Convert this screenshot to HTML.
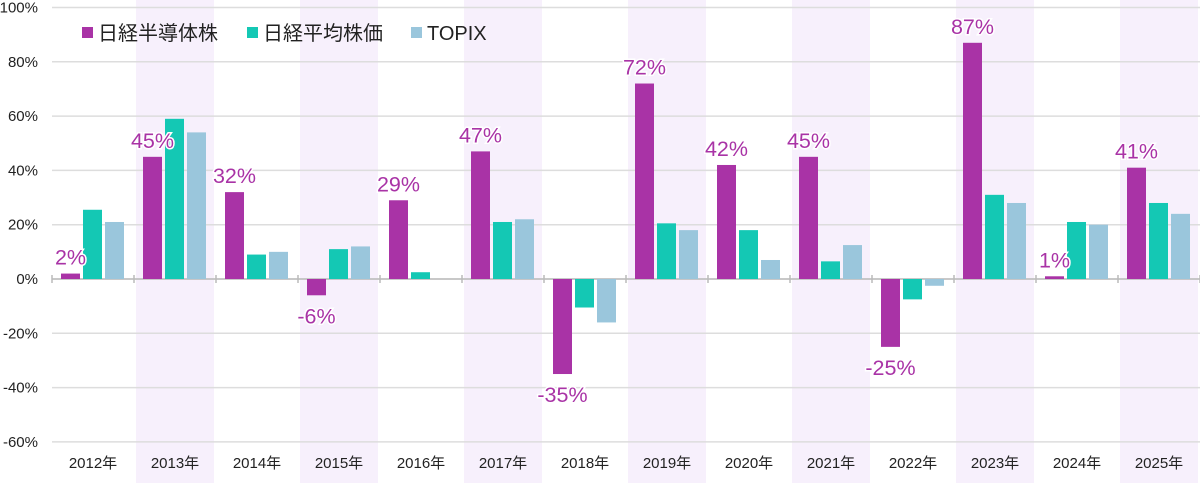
<!DOCTYPE html>
<html><head><meta charset="utf-8"><style>
body{margin:0;background:#fff}
svg text{font-family:"Liberation Sans","Noto Sans CJK JP",sans-serif}
</style></head><body>
<svg width="1200" height="483" xmlns="http://www.w3.org/2000/svg" id="s"></svg>
<script>
const s=document.getElementById('s');
const data=[[2,25.5,21],[45,59,54],[32,9,10],[-6,11,12],[29,2.5,0],[47,21,22],[-35,-10.5,-16],[72,20.5,18],[42,18,7],[45,6.5,12.5],[-25,-7.5,-2.5],[87,31,28],[1,21,20],[41,28,24]];
const cols=['#a933a6','#14c8b4','#9ac6dc'];
const Z=279,K=2.715,L=52,G=82;
let h='';
for(let i=0;i<14;i++){if(i%2==1)h+=`<rect x="${L+i*G+2}" y="0" width="78" height="483" fill="#f7f0fc"/>`;}
for(let v=100;v>=-60;v-=20){const y=Z-v*K;h+=`<line x1="${L}" x2="1200" y1="${y}" y2="${y}" stroke="#ddd" stroke-width="1.5"/><text x="38" y="${y+5}" font-size="15" fill="#222" text-anchor="end">${v}%</text>`;}
h+=`<line x1="${L}" x2="1200" y1="${Z}" y2="${Z}" stroke="#bbb" stroke-width="1.5"/>`;
for(let i=0;i<=14;i++){const x=L+i*G;h+=`<line x1="${x}" x2="${x}" y1="${Z-4}" y2="${Z+4}" stroke="#bbb" stroke-width="1.5"/>`;}
data.forEach((d,i)=>{const gx=L+i*G;
d.forEach((v,j)=>{const x=gx+9+j*22;const y=v>=0?Z-v*K:Z;const hh=Math.abs(v)*K;if(hh>0)h+=`<rect x="${x}" y="${y}" width="19" height="${hh}" fill="${cols[j]}"/>`;});
const v=d[0],cx=gx+18.5;const ly=v>=0?Z-v*K-9:Z-v*K+28;
h+=`<text x="${cx}" y="${ly}" font-size="21.5" fill="#a933a6" text-anchor="middle" stroke="#fff" stroke-width="3" paint-order="stroke">${v}%</text>`;
h+=`<text x="${gx+41}" y="468" font-size="15" fill="#222" text-anchor="middle">${2012+i}年</text>`;});
const lg=[['日経半導体株',82],['日経平均株価',247],['TOPIX',411]];
lg.forEach((l,j)=>{h+=`<rect x="${l[1]}" y="27" width="11" height="11" fill="${cols[j]}"/><text x="${l[1]+16}" y="40" font-size="20" fill="#222">${l[0]}</text>`;});
s.innerHTML=h;
</script>
</body></html>
